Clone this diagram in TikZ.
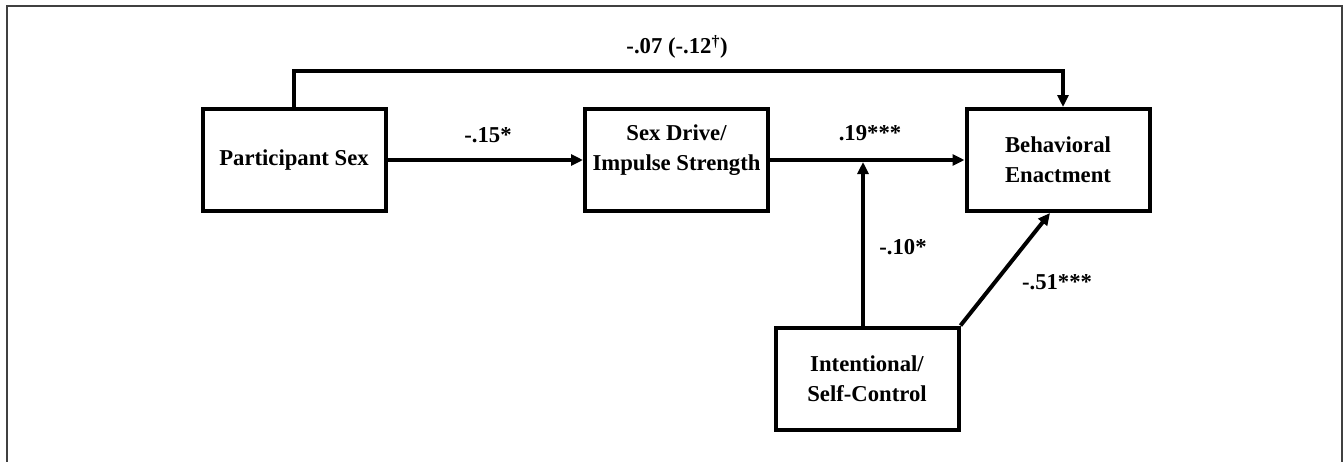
\documentclass[tikz,border=0pt]{standalone}
\usepackage{fontspec}
\setmainfont{Liberation Serif}
\usetikzlibrary{arrows.meta}
\begin{document}
\begin{tikzpicture}[x=1pt,y=-1pt,
  every node/.style={font=\fontsize{22.7}{30}\selectfont\bfseries},
  box/.style={draw=black,line width=4pt,minimum width=183pt,minimum height=102pt,inner sep=0pt,align=center},
  txt/.style={align=center,inner sep=0pt},
  lab/.style={inner sep=0pt},
  conn/.style={line width=4pt,draw=black},
  arr/.style={conn,-{Triangle[length=12pt,width=11pt]}}]
\useasboundingbox (0,0) rectangle (1344,461);
\draw[line width=2pt,draw=black!75] (6.5,470) -- (6.5,6) -- (1341.5,6) -- (1341.5,470);
% boxes
\node[box] (ps) at (294,160) {Participant Sex};
\node[box] (sd) at (676.5,160) {};
\node[txt] (sdt) at (676.5,150) {Sex Drive/\\Impulse Strength};
\node[box] (be) at (1058,160) {Behavioral\\Enactment};
\node[box] (ic) at (867,378.5) {Intentional/\\Self-Control};
% coordinates
\coordinate (tl) at (294,71);
\coordinate (tr) at (1063,71);
\coordinate (m) at (863,162);
% connectors
\draw[arr] (ps.north) -- (tl) -- (tr) -- (tr |- be.north);
\draw[arr] (ps.east) -- (sd.west);
\draw[arr] (sd.east) -- (be.west);
\draw[arr] (m |- ic.north) -- (m);
\draw[arr] (ic.north east) -- ([xshift=-8pt]be.south);
% labels
\node[lab] (l1) at (677,47) {-.07 (-.12\textsuperscript{†})};
\node[lab] (l2) at (488,135) {-.15*};
\node[lab] (l3) at (870,133) {.19***};
\node[lab] (l4) at (903,247) {-.10*};
\node[lab] (l5) at (1057,282) {-.51***};
\end{tikzpicture}
\end{document}
